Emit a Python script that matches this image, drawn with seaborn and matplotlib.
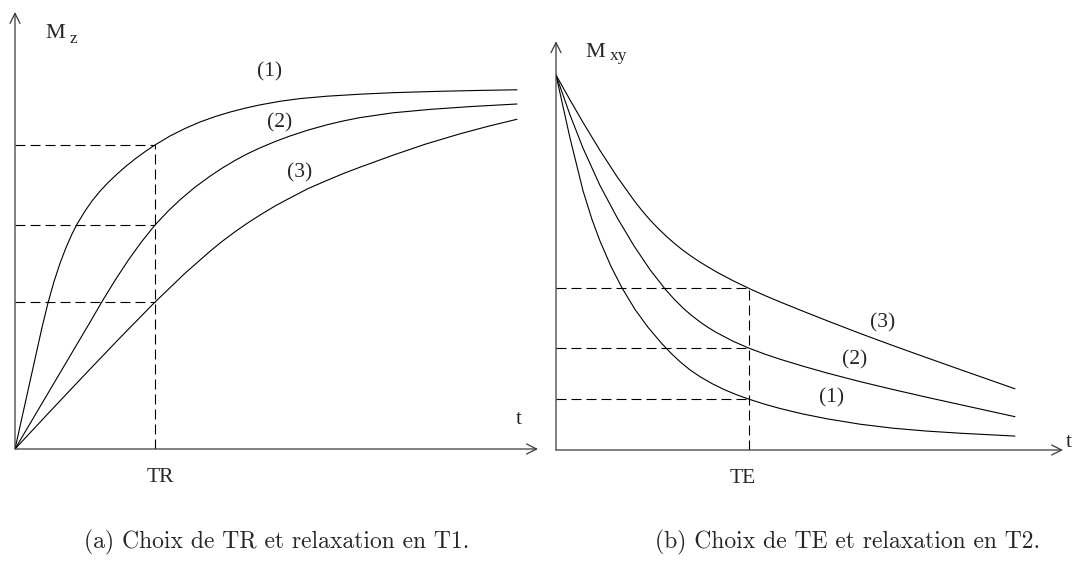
import numpy as np
import matplotlib
matplotlib.use("Agg")
import matplotlib.pyplot as plt
import seaborn as sns

# --- T1 recovery: longitudinal magnetisation Mz (% of equilibrium) ---
t1_a = [0, 0.07, 0.14, 0.21, 0.27, 0.33, 0.39, 0.45, 0.51, 0.57, 0.62, 0.70,
        0.77, 0.85, 0.93, 1.02, 1.11, 1.21, 1.31, 1.40, 1.55, 1.70, 1.85, 2.00,
        2.15, 2.30, 2.45, 2.65, 2.85, 3.12, 3.45, 3.78, 4.25, 4.65, 5.02]
mz_a = [0, 7.88, 15.75, 23.63, 30.38, 36.53, 41.85, 46.43, 50.35, 53.75, 56.2,
        59.48, 62.0, 64.45, 66.58, 68.73, 70.7, 72.7, 74.5, 76.0, 78.25, 80.13,
        81.75, 83.1, 84.23, 85.2, 86.03, 86.93, 87.6, 88.2, 88.7, 89.08, 89.43,
        89.65, 89.8]
t1_b = [0, 0.20, 0.40, 0.60, 0.75, 0.87, 1.00, 1.13, 1.26, 1.40, 1.53, 1.65,
        1.80, 1.95, 2.07, 2.20, 2.32, 2.45, 2.60, 2.75, 2.93, 3.12, 3.28, 3.45,
        3.78, 4.15, 4.55, 5.02]
mz_b = [0, 8.45, 16.9, 25.35, 31.68, 36.85, 42.15, 47.1, 51.63, 56.0, 59.45,
        62.3, 65.45, 68.2, 70.2, 72.13, 73.75, 75.28, 76.85, 78.25, 79.73, 81.05,
        82.0, 82.85, 84.05, 84.9, 85.6, 86.25]
t1_c = [0, 0.35, 0.70, 1.05, 1.40, 1.70, 1.95, 2.07, 2.20, 2.32, 2.45, 2.60,
        2.75, 2.93, 3.12, 3.28, 3.45, 3.78, 4.10, 4.45, 4.75, 5.02]
mz_c = [0, 9.38, 18.65, 27.8, 36.73, 43.93, 49.43, 51.88, 54.3, 56.4, 58.48,
        60.75, 62.75, 65.1, 67.15, 68.83, 70.45, 73.45, 76.18, 78.8, 80.8, 82.43]
TR = 1.40

# --- T2 decay: transverse magnetisation Mxy (% of initial) ---
t2_a = [0, 0.14, 0.27, 0.36, 0.44, 0.55, 0.66, 0.79, 0.92, 1.06, 1.15, 1.24,
        1.34, 1.44, 1.56, 1.68, 1.80, 1.93, 2.08, 2.24, 2.47, 2.71, 3.04, 3.37,
        3.71, 4.04, 4.59]
mxy_a = [100, 83.2, 69.15, 61.47, 55.71, 48.96, 43.23, 37.49, 32.72, 28.32,
         25.81, 23.55, 21.36, 19.55, 17.71, 16.13, 14.8, 13.55, 12.27, 11.07,
         9.6, 8.32, 6.88, 5.81, 5.04, 4.48, 3.71]
t2_b = [0, 0.14, 0.27, 0.44, 0.61, 0.78, 0.94, 1.09, 1.18, 1.27, 1.35, 1.44,
        1.52, 1.60, 1.77, 1.93, 2.09, 2.24, 2.47, 2.71, 3.04, 3.37, 3.71, 4.04,
        4.59]
mxy_b = [100, 89.36, 80.51, 70.53, 62.03, 54.43, 48.08, 42.96, 40.27, 37.87,
         36.0, 34.16, 32.69, 31.39, 29.01, 27.15, 25.55, 24.21, 22.35, 20.53,
         18.24, 16.13, 14.05, 12.11, 8.88]
t2_c = [0, 0.14, 0.27, 0.44, 0.61, 0.78, 0.86, 0.94, 1.02, 1.11, 1.19, 1.27,
        1.35, 1.44, 1.60, 1.77, 1.93, 2.09, 2.24, 2.47, 2.71, 3.04, 3.37, 3.71,
        4.04, 4.59]
mxy_c = [100, 93.36, 87.36, 79.89, 72.91, 66.56, 63.84, 61.36, 59.12, 56.83,
         54.96, 53.25, 51.71, 50.11, 47.55, 45.15, 43.09, 41.17, 39.49, 37.01,
         34.48, 31.09, 27.84, 24.59, 21.47, 16.32]
TE = 1.93

curve_labels = ["(1)", "(2)", "(3)"]
captions = ["(a) Choix de TR et relaxation en T1.",
            "(b) Choix de TE et relaxation en T2."]

sns.set_theme(style="white")
plt.rcParams["font.family"] = ["Liberation Serif", "DejaVu Serif"]
plt.rcParams["lines.scale_dashes"] = False
plt.rcParams["lines.solid_joinstyle"] = "round"

W, H = 1072, 561
fig = plt.figure(figsize=(W / 100, H / 100), dpi=100)
fig.patch.set_facecolor("white")

ax_l = fig.add_axes([15 / W, 1 - 449 / H, 525 / W, 439 / H])
ax_r = fig.add_axes([556 / W, 1 - 450 / H, 516 / W, 420 / H])
ax_l.set_xlim(0, 5.25)
ax_l.set_ylim(0, 109.75)
ax_r.set_xlim(0, 5.16)
ax_r.set_ylim(0, 112.0)

ink = "black"
axis_ink = "#3a3a3a"
dash = (0, (7.2, 3.6))
lw = 0.8
lab_fs = 15.5


def draw_axes(ax, xtip, ytip):
    arrow = dict(arrowstyle="->", color=axis_ink, lw=0.9, shrinkA=0, shrinkB=0,
                 mutation_scale=18)
    ax.annotate("", xy=(xtip, 0), xytext=(0, 0), arrowprops=arrow,
                annotation_clip=False)
    ax.annotate("", xy=(0, ytip), xytext=(0, 0), arrowprops=arrow,
                annotation_clip=False)


for ax in (ax_l, ax_r):
    ax.set_axis_off()

# Left panel: recovery curves with the TR read-off guides
left_curves = ((t1_a, mz_a), (t1_b, mz_b), (t1_c, mz_c))
for t, m in left_curves:
    sns.lineplot(x=t, y=m, ax=ax_l, color=ink, lw=lw, sort=False,
                 estimator=None, legend=False)
levels_l = [float(np.interp(TR, t, m)) for t, m in left_curves]
for lev in levels_l:
    ax_l.plot([0, TR], [lev, lev], color=ink, lw=lw, ls=dash)
ax_l.plot([TR, TR], [0, max(levels_l)], color=ink, lw=lw, ls=dash)
draw_axes(ax_l, 5.23, 109.25)

for lab, (x, y) in zip(curve_labels, [(2.55, 94.25), (2.65, 81.5), (2.85, 69.0)]):
    ax_l.text(x, y, lab, ha="center", va="center", fontsize=lab_fs)
ax_l.text(0.30, 102.75, "M", ha="left", va="baseline", fontsize=16,
          clip_on=False)
ax_l.text(0.55, 101.5, "z", ha="left", va="baseline", fontsize=12.5,
          clip_on=False)
ax_l.text(5.04, 7.5, "t", ha="center", va="center", fontsize=lab_fs,
          clip_on=False)
ax_l.text(TR + 0.05, -7.25, "TR", ha="center", va="center", fontsize=15.5,
          clip_on=False)

# Right panel: decay curves with the TE read-off guides
right_curves = ((t2_a, mxy_a), (t2_b, mxy_b), (t2_c, mxy_c))
for t, m in right_curves:
    sns.lineplot(x=t, y=m, ax=ax_r, color=ink, lw=lw, sort=False,
                 estimator=None, legend=False)
levels_r = [float(np.interp(TE, t, m)) for t, m in right_curves]
for lev in levels_r:
    ax_r.plot([0, TE], [lev, lev], color=ink, lw=lw, ls=dash)
ax_r.plot([TE, TE], [0, max(levels_r)], color=ink, lw=lw, ls=dash)
draw_axes(ax_r, 5.07, 109.0)

for lab, (x, y) in zip(curve_labels, [(2.76, 13.9), (2.99, 24.0), (3.27, 33.9)]):
    ax_r.text(x, y, lab, ha="center", va="center", fontsize=lab_fs)
ax_r.text(0.29, 104.8, "M", ha="left", va="baseline", fontsize=16,
          clip_on=False)
ax_r.text(0.54, 104.0, "xy", ha="left", va="baseline", fontsize=12.5,
          clip_on=False)
ax_r.text(5.10, 1.9, "t", ha="left", va="center", fontsize=lab_fs,
          clip_on=False)
ax_r.text(TE - 0.06, -7.5, "TE", ha="center", va="center", fontsize=15.5,
          clip_on=False)

# Sub-figure captions
for cx, cap in zip([277, 848], captions):
    fig.text(cx / W, 1 - 548 / H, cap, ha="center", va="baseline",
             fontsize=17, family="cmr10")

fig.savefig("out.png", dpi=100, facecolor="white")
